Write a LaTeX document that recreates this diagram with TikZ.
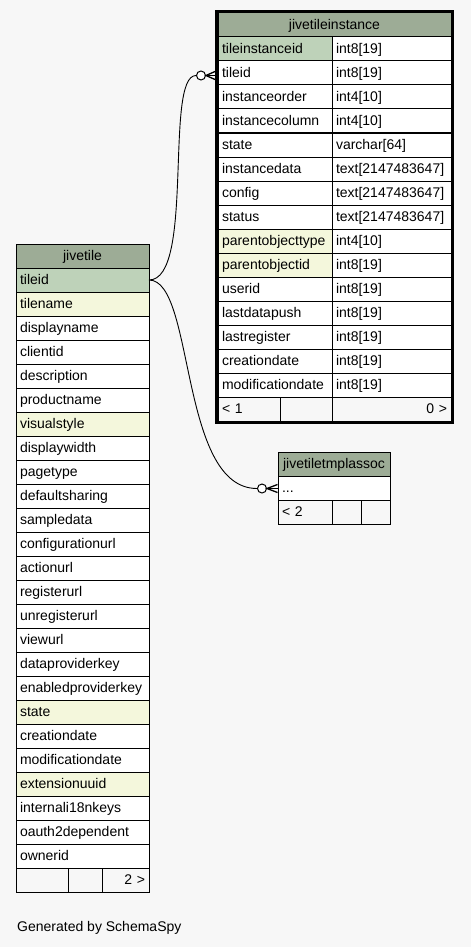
\documentclass[tikz,border=0pt]{standalone}
\usepackage{fontspec}
\setmainfont{Liberation Sans}
\usetikzlibrary{fit}
\definecolor{bgc}{RGB}{247,247,247}
\definecolor{hdrc}{RGB}{157,172,150}
\definecolor{keyc}{RGB}{190,210,185}
\definecolor{yelc}{RGB}{244,247,220}
\newcommand\cellfont{\fontsize{14pt}{16pt}\selectfont}
\tikzset{
  cell/.style={draw=black, line width=1pt, fill=white, anchor=north west,
    minimum height=24pt, inner xsep=4pt, inner ysep=0pt, outer sep=0pt,
    text height=10pt, text depth=1pt, font=\cellfont, align=left},
  hdr/.style={cell, fill=hdrc, align=center},
  foot/.style={cell, fill=bgc},
  ring/.style={circle, draw=black, line width=1pt, fill=white, minimum size=9pt, inner sep=0pt},
  link/.style={draw=black, line width=0.9pt},
  crowline/.style={draw=black, line width=1.3pt},
  focus/.style={draw=black, line width=3pt, inner sep=1.5pt}
}
\begin{document}
\begin{tikzpicture}[x=1pt,y=-1pt]
\fill[bgc] (0,0) rectangle (471,947);
\useasboundingbox (0,0) rectangle (471,947);

% ---- jivetile ----
\node[hdr, text width=125pt] (jt-h) at (16,244) {jivetile};
\foreach \n/\f [count=\i from 0] in {tileid/keyc, tilename/yelc, displayname/white,
  clientid/white, description/white, productname/white, visualstyle/yelc,
  displaywidth/white, pagetype/white, defaultsharing/white, sampledata/white,
  configurationurl/white, actionurl/white, registerurl/white, unregisterurl/white,
  viewurl/white, dataproviderkey/white, enabledproviderkey/white, state/yelc,
  creationdate/white, modificationdate/white, extensionuuid/yelc,
  internali18nkeys/white, oauth2dependent/white, ownerid/white}
  \node[cell, fill=\f, text width=125pt] (jt-\i) at (16,{268+24*\i}) {\n};
\node[foot, text width=44pt] (jt-f1) at (16,868) {};
\node[foot, text width=26pt] (jt-f2) at (68,868) {};
\node[foot, text width=39pt, align=right] (jt-f3) at (102,868) {2 >};

% ---- jivetileinstance ----
\node[hdr, text width=225pt] (ti-h) at (218,13) {jivetileinstance};
\foreach \n/\t/\f [count=\i from 0] in {tileinstanceid/int8[19]/keyc,
  tileid/int8[19]/white, instanceorder/int4[10]/white, instancecolumn/int4[10]/white,
  state/varchar[64]/white, instancedata/text[2147483647]/white,
  config/text[2147483647]/white, status/text[2147483647]/white,
  parentobjecttype/int4[10]/yelc, parentobjectid/int8[19]/yelc,
  userid/int8[19]/white, lastdatapush/int8[19]/white, lastregister/int8[19]/white,
  creationdate/int8[19]/white, modificationdate/int8[19]/white}
  {
  \node[cell, fill=\f, text width=106pt] (ti-\i-l) at (218,{37+24*\i}) {\n};
  \node[cell, text width=111pt] (ti-\i-r) at (332,{37+24*\i}) {\t};
  }
\node[foot, text width=54pt] (ti-f1) at (218,397) {< 1};
\node[foot, text width=44pt] (ti-f2) at (280,397) {};
\node[foot, text width=111pt, align=right] (ti-f3) at (332,397) {0 >};
\node[focus, fit=(ti-h)(ti-f3)] (ti-box) {};

% ---- jivetiletmplassoc ----
\node[hdr, text width=104pt] (tm-h) at (278,452) {jivetiletmplassoc};
\node[cell, text width=104pt] (tm-0) at (278,476) {...};
\node[foot, text width=46pt] (tm-f1) at (278,500) {< 2};
\node[foot, text width=21pt] (tm-f2) at (332,500) {};
\node[foot, text width=21pt] (tm-f3) at (361,500) {};

% ---- connectors ----
\node[ring] (o1) at ([xshift=-17pt,yshift=-2.5pt]ti-1-l.west) {};
\coordinate (k1) at ([xshift=-3pt,yshift=-2.5pt]ti-1-l.west);
\path[link] (jt-0.east) .. controls +(46,0) and +(-32,0) .. (o1.west);
\draw[crowline] ([yshift=4pt]k1) -- (o1.east) -- ([yshift=-4pt]k1);
\draw[crowline] (o1.east) -- (k1);

\node[ring] (o2) at ([xshift=-16pt,yshift=-0.5pt]tm-0.west) {};
\coordinate (k2) at ([xshift=-0.5pt,yshift=-0.5pt]tm-0.west);
\path[link] (jt-0.east) .. controls +(46,0) and +(-78,0) .. (o2.west);
\draw[crowline] ([yshift=4pt]k2) -- (o2.east) -- ([yshift=-4pt]k2);
\draw[crowline] (o2.east) -- (k2);

\node[anchor=base west, font=\cellfont, inner sep=0pt] (gen) at (17,931.5) {Generated by SchemaSpy};
\end{tikzpicture}
\end{document}
